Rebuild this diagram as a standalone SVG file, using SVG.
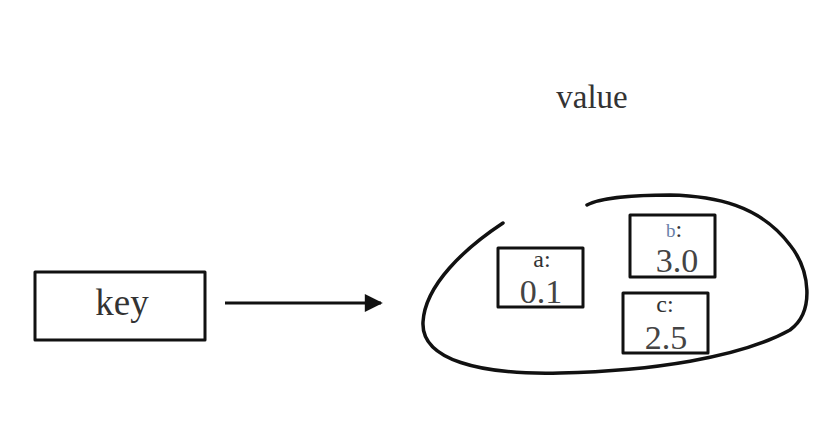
<svg xmlns="http://www.w3.org/2000/svg" width="833" height="441" viewBox="0 0 833 441">
<defs>
<style>
.box{fill:none;stroke:#111;stroke-width:3;stroke-linejoin:round}
.t{font-family:"Liberation Serif","DejaVu Serif",serif;fill:#333;text-anchor:middle}
.lbl{font-size:24px}
.num{font-size:34px;fill:#444}
</style>
<marker id="ah" viewBox="0 0 10 10" refX="9" refY="5" markerWidth="8" markerHeight="6" markerUnits="strokeWidth" orient="auto">
<path d="M0,0 L10,5 L0,10 Z" fill="#111"/>
</marker>
</defs>
<rect width="833" height="441" fill="#fff"/>
<text class="t" x="592" y="108" font-size="33">value</text>
<g id="key">
<rect class="box" x="35" y="272" width="170" height="68"/>
<text class="t" x="122" y="315" font-size="37">key</text>
</g>
<g id="connectors">
<line x1="225" y1="303" x2="381" y2="303" stroke="#111" stroke-width="3" marker-end="url(#ah)"/>
</g>
<g id="value-set">
<path d="M503,223 C465,248 425,285 423,322 C421,360 480,375 560,373 C650,371 740,358 790,330 C815,312 810,270 790,245 C760,205 715,196 670,195 C635,195 600,198 587,205" fill="none" stroke="#111" stroke-width="3.5" stroke-linecap="round"/>
</g>
<g id="a">
<rect class="box" x="498" y="248" width="85" height="59"/>
<text class="t lbl" x="542" y="267">a:</text>
<text class="t num" x="541" y="303">0.1</text>
</g>
<g id="b">
<rect class="box" x="630" y="215" width="85" height="62"/>
<text class="t lbl" x="674" y="237"><tspan fill="#6a7fa8" font-size="19">b</tspan>:</text>
<text class="t num" x="677" y="272">3.0</text>
</g>
<g id="c">
<rect class="box" x="623" y="293" width="85" height="60"/>
<text class="t lbl" x="665" y="312">c:</text>
<text class="t num" x="666" y="349">2.5</text>
</g>
</svg>
